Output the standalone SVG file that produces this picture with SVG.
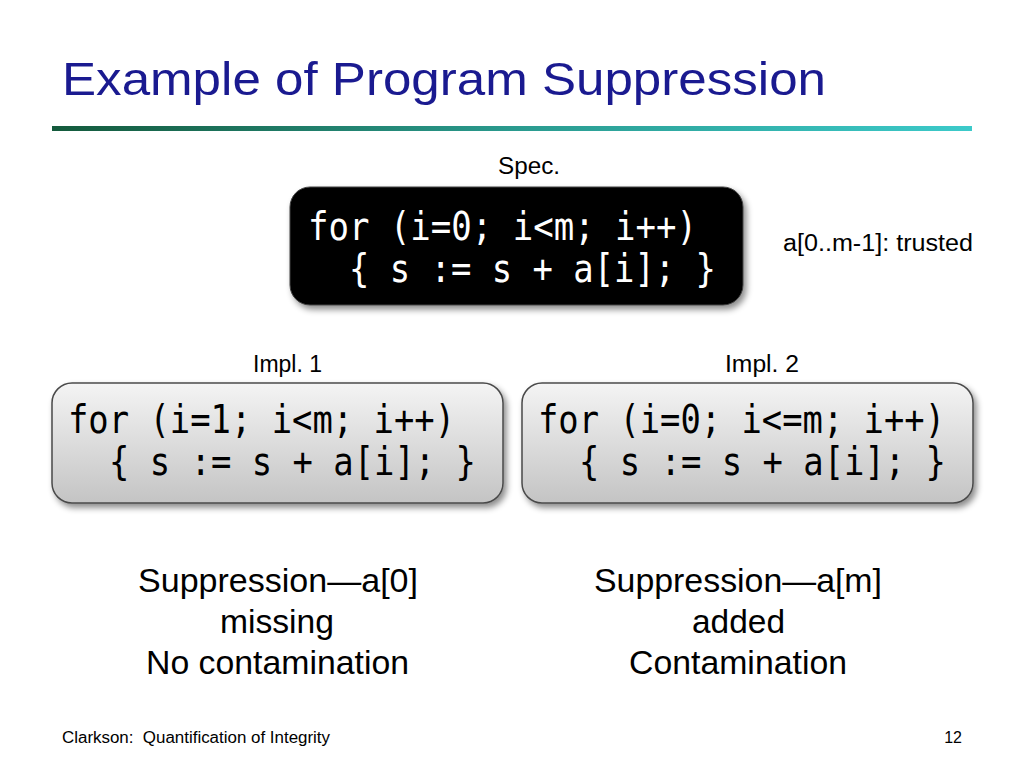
<svg xmlns="http://www.w3.org/2000/svg" width="1024" height="768" viewBox="0 0 1024 768">
<defs>
<linearGradient id="bar" x1="0" y1="0" x2="1" y2="0">
<stop offset="0" stop-color="#145a3c"/>
<stop offset="0.5" stop-color="#2a9a8e"/>
<stop offset="1" stop-color="#3ccaca"/>
</linearGradient>
<linearGradient id="gray" x1="0" y1="0" x2="0" y2="1">
<stop offset="0" stop-color="#f4f4f4"/>
<stop offset="1" stop-color="#c4c4c4"/>
</linearGradient>
<filter id="sh" x="-10%" y="-10%" width="130%" height="140%">
<feDropShadow dx="3" dy="4" stdDeviation="3" flood-color="#000" flood-opacity="0.45"/>
</filter>
<style>
.t{font-family:"Liberation Sans",Arial,sans-serif;fill:#000}
.code{font-family:"DejaVu Sans Mono","Liberation Mono",monospace;font-size:39px}
.title{font-family:"Liberation Sans",Arial,sans-serif;font-size:47px;fill:#1a1a90}
.lbl{font-size:23px}
.big{font-size:33px}
.foot{font-size:16px}
</style>
</defs>
<rect width="1024" height="768" fill="#fff"/>
<text class="title" x="62" y="95" textLength="764" lengthAdjust="spacingAndGlyphs">Example of Program Suppression</text>
<rect x="52" y="126" width="920" height="5" fill="url(#bar)"/>

<g id="spec">
<text class="t lbl" x="529" y="174" text-anchor="middle" textLength="62" lengthAdjust="spacingAndGlyphs">Spec.</text>
<rect x="290" y="187" width="453" height="118" rx="20" ry="20" fill="#000" stroke="#444" stroke-width="1" filter="url(#sh)"/>
<text class="code" x="308" y="240" fill="#fff" textLength="389" lengthAdjust="spacingAndGlyphs">for (i=0; i&lt;m; i++)</text>
<text class="code" x="349" y="282" fill="#fff" textLength="367" lengthAdjust="spacingAndGlyphs">{ s := s + a[i]; }</text>
</g>

<g id="trusted">
<text class="t lbl" x="783" y="251" textLength="190" lengthAdjust="spacingAndGlyphs">a[0..m-1]: trusted</text>
</g>

<g id="impl1">
<text class="t lbl" x="253" y="372" textLength="69" lengthAdjust="spacingAndGlyphs">Impl. 1</text>
<rect x="52" y="383" width="451" height="120" rx="20" ry="20" fill="url(#gray)" stroke="#4a4a4a" stroke-width="1.5" filter="url(#sh)"/>
<text class="code" x="68" y="433" fill="#000" textLength="387" lengthAdjust="spacingAndGlyphs">for (i=1; i&lt;m; i++)</text>
<text class="code" x="109" y="475" fill="#000" textLength="367" lengthAdjust="spacingAndGlyphs">{ s := s + a[i]; }</text>
</g>

<g id="impl2">
<text class="t lbl" x="725" y="372" textLength="74" lengthAdjust="spacingAndGlyphs">Impl. 2</text>
<rect x="522" y="383" width="451" height="120" rx="20" ry="20" fill="url(#gray)" stroke="#4a4a4a" stroke-width="1.5" filter="url(#sh)"/>
<text class="code" x="538" y="433" fill="#000" textLength="407" lengthAdjust="spacingAndGlyphs">for (i=0; i&lt;=m; i++)</text>
<text class="code" x="579" y="475" fill="#000" textLength="367" lengthAdjust="spacingAndGlyphs">{ s := s + a[i]; }</text>
</g>

<g id="result1">
<text class="t big" x="138" y="592" textLength="280" lengthAdjust="spacingAndGlyphs">Suppression—a[0]</text>
<text class="t big" x="220" y="633" textLength="114" lengthAdjust="spacingAndGlyphs">missing</text>
<text class="t big" x="146" y="674" textLength="263" lengthAdjust="spacingAndGlyphs">No contamination</text>
</g>

<g id="result2">
<text class="t big" x="594" y="592" textLength="288" lengthAdjust="spacingAndGlyphs">Suppression—a[m]</text>
<text class="t big" x="692" y="633" textLength="93" lengthAdjust="spacingAndGlyphs">added</text>
<text class="t big" x="629" y="674" textLength="218" lengthAdjust="spacingAndGlyphs">Contamination</text>
</g>

<g id="footer">
<text class="t foot" x="62" y="743" textLength="268" lengthAdjust="spacingAndGlyphs" xml:space="preserve">Clarkson:  Quantification of Integrity</text>
<text class="t foot" x="962" y="743" text-anchor="end">12</text>
</g>
</svg>
